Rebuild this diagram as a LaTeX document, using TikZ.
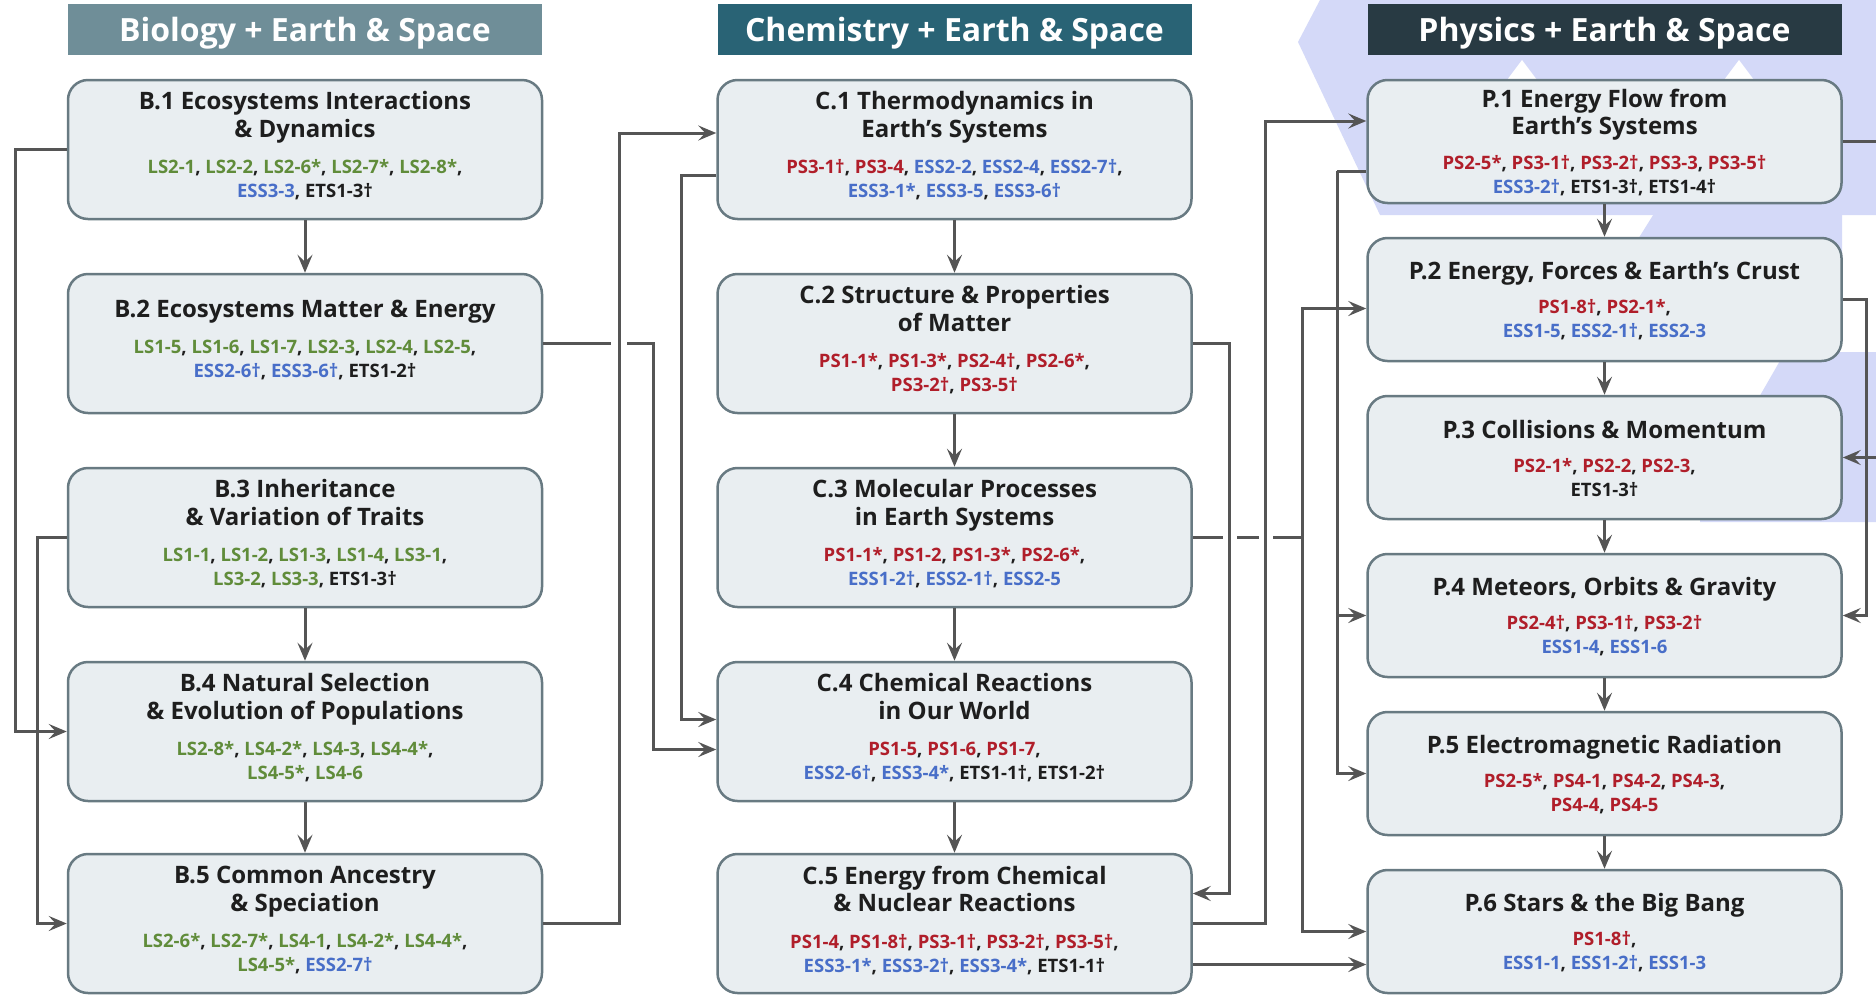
\documentclass[tikz,border=0pt]{standalone}
\usepackage{fontspec}
\setmainfont{Open Sans}
\usetikzlibrary{arrows.meta,calc}
\definecolor{hbio}{RGB}{111,142,152}
\definecolor{hchem}{RGB}{41,99,117}
\definecolor{hphys}{RGB}{40,58,67}
\definecolor{boxfill}{RGB}{233,238,241}
\definecolor{boxline}{RGB}{104,122,130}
\definecolor{lnc}{RGB}{85,85,85}
\definecolor{cgreen}{RGB}{96,140,58}
\definecolor{cred}{RGB}{176,30,42}
\definecolor{cblue}{RGB}{72,110,200}
\definecolor{cblack}{RGB}{30,30,30}
\definecolor{lav}{RGB}{212,217,248}
\newcommand{\cf}{\fontsize{18.5}{21}\selectfont}
\newcommand{\grn}[1]{\textcolor{cgreen}{#1}}
\newcommand{\rdc}[1]{\textcolor{cred}{#1}}
\newcommand{\blu}[1]{\textcolor{cblue}{#1}}
\tikzset{
  hdr/.style={fill=#1, minimum width=474pt, minimum height=51pt, inner sep=0pt, text depth=0pt, text=white, font=\fontsize{32}{36}\selectfont\bfseries},
  card/.style={draw=boxline, line width=2.5pt, fill=boxfill, rounded corners=20pt, minimum width=474pt, inner sep=0pt},
  bc/.style={card, minimum height=139pt},
  pc/.style={card, minimum height=123pt},
  txt/.style={align=center, font=\fontsize{24}{27.5}\selectfont\bfseries, text=cblack, inner sep=0pt},
  conn/.style={draw=lnc, line width=3pt},
  arr/.style={conn, -{Stealth[length=18pt,width=15pt,inset=7pt]}},
  gap/.style={fill=white}
}
\begin{document}
\begin{tikzpicture}[x=1pt,y=-1pt]
\useasboundingbox (0,0) rectangle (1876,994);
\fill[white] (0,0) rectangle (1876,994);
% background decoration
\fill[lav] (1320,0) -- (1298,42) -- (1380,215) -- (1876,215) -- (1876,0) -- cycle;
\fill[white] (1498,92) -- (1522,60) -- (1546,92) -- cycle;
\fill[white] (1715,92) -- (1739,60) -- (1763,92) -- cycle;
\fill[lav] (1655,212) -- (1600,300) -- (1842,300) -- (1842,212) -- cycle;
\fill[lav] (1785,352) -- (1700,500) -- (1700,522) -- (1876,522) -- (1876,352) -- cycle;
% headers
\node[hdr=hbio] (HB) at (305,29.5) {Biology + Earth \& Space};
\node[hdr=hchem] (HC) at (954.5,29.5) {Chemistry + Earth \& Space};
\node[hdr=hphys] (HP) at (1604.5,29.5) {Physics + Earth \& Space};
% boxes
\node[bc] (B1) at (305,149.5) {};
\node[bc] (B2) at (305,343.5) {};
\node[bc] (B3) at (305,537.5) {};
\node[bc] (B4) at (305,731.5) {};
\node[bc] (B5) at (305,923.5) {};
\node[bc] (C1) at (954.5,149.5) {};
\node[bc] (C2) at (954.5,343.5) {};
\node[bc] (C3) at (954.5,537.5) {};
\node[bc] (C4) at (954.5,731.5) {};
\node[bc] (C5) at (954.5,923.5) {};
\node[pc] (P1) at (1604.5,141.5) {};
\node[pc] (P2) at (1604.5,299.5) {};
\node[pc] (P3) at (1604.5,457.5) {};
\node[pc] (P4) at (1604.5,615.5) {};
\node[pc] (P5) at (1604.5,773.5) {};
\node[pc] (P6) at (1604.5,931.5) {};
% texts
\node[txt] (B1t) at ([yshift=3.5pt]B1.center) {B.1 Ecosystems Interactions\\\& Dynamics\\[9pt]{\cf\grn{LS2-1}, \grn{LS2-2}, \grn{LS2-6*}, \grn{LS2-7*}, \grn{LS2-8*},}\\[-3.5pt]{\cf\blu{ESS3-3}, ETS1-3†}};
\node[txt] (B2t) at ([yshift=3.5pt]B2.center) {B.2 Ecosystems Matter \& Energy\\[9pt]{\cf\grn{LS1-5}, \grn{LS1-6}, \grn{LS1-7}, \grn{LS2-3}, \grn{LS2-4}, \grn{LS2-5},}\\[-3.5pt]{\cf\blu{ESS2-6†}, \blu{ESS3-6†}, ETS1-2†}};
\node[txt] (B3t) at ([yshift=3.5pt]B3.center) {B.3 Inheritance\\\& Variation of Traits\\[9pt]{\cf\grn{LS1-1}, \grn{LS1-2}, \grn{LS1-3}, \grn{LS1-4}, \grn{LS3-1},}\\[-3.5pt]{\cf\grn{LS3-2}, \grn{LS3-3}, ETS1-3†}};
\node[txt] (B4t) at ([yshift=3.5pt]B4.center) {B.4 Natural Selection\\\& Evolution of Populations\\[9pt]{\cf\grn{LS2-8*}, \grn{LS4-2*}, \grn{LS4-3}, \grn{LS4-4*},}\\[-3.5pt]{\cf\grn{LS4-5*}, \grn{LS4-6}}};
\node[txt] (B5t) at ([yshift=3.5pt]B5.center) {B.5 Common Ancestry\\\& Speciation\\[9pt]{\cf\grn{LS2-6*}, \grn{LS2-7*}, \grn{LS4-1}, \grn{LS4-2*}, \grn{LS4-4*},}\\[-3.5pt]{\cf\grn{LS4-5*}, \blu{ESS2-7†}}};
\node[txt] (C1t) at ([yshift=3.5pt]C1.center) {C.1 Thermodynamics in\\Earth’s Systems\\[9pt]{\cf\rdc{PS3-1†}, \rdc{PS3-4}, \blu{ESS2-2}, \blu{ESS2-4}, \blu{ESS2-7†},}\\[-3.5pt]{\cf\blu{ESS3-1*}, \blu{ESS3-5}, \blu{ESS3-6†}}};
\node[txt] (C2t) at ([yshift=3.5pt]C2.center) {C.2 Structure \& Properties\\of Matter\\[9pt]{\cf\rdc{PS1-1*}, \rdc{PS1-3*}, \rdc{PS2-4†}, \rdc{PS2-6*},}\\[-3.5pt]{\cf\rdc{PS3-2†}, \rdc{PS3-5†}}};
\node[txt] (C3t) at ([yshift=3.5pt]C3.center) {C.3 Molecular Processes\\in Earth Systems\\[9pt]{\cf\rdc{PS1-1*}, \rdc{PS1-2}, \rdc{PS1-3*}, \rdc{PS2-6*},}\\[-3.5pt]{\cf\blu{ESS1-2†}, \blu{ESS2-1†}, \blu{ESS2-5}}};
\node[txt] (C4t) at ([yshift=3.5pt]C4.center) {C.4 Chemical Reactions\\in Our World\\[9pt]{\cf\rdc{PS1-5}, \rdc{PS1-6}, \rdc{PS1-7},}\\[-3.5pt]{\cf\blu{ESS2-6†}, \blu{ESS3-4*}, ETS1-1†, ETS1-2†}};
\node[txt] (C5t) at ([yshift=3.5pt]C5.center) {C.5 Energy from Chemical\\\& Nuclear Reactions\\[9pt]{\cf\rdc{PS1-4}, \rdc{PS1-8†}, \rdc{PS3-1†}, \rdc{PS3-2†}, \rdc{PS3-5†},}\\[-3.5pt]{\cf\blu{ESS3-1*}, \blu{ESS3-2†}, \blu{ESS3-4*}, ETS1-1†}};
\node[txt] (P1t) at ([yshift=-1pt]P1.center) {P.1 Energy Flow from\\Earth’s Systems\\[7pt]{\cf\rdc{PS2-5*}, \rdc{PS3-1†}, \rdc{PS3-2†}, \rdc{PS3-3}, \rdc{PS3-5†}}\\[-3.5pt]{\cf\blu{ESS3-2†}, ETS1-3†, ETS1-4†}};
\node[txt] (P2t) at ([yshift=-1pt]P2.center) {P.2 Energy, Forces \& Earth’s Crust\\[7pt]{\cf\rdc{PS1-8†}, \rdc{PS2-1*},}\\[-3.5pt]{\cf\blu{ESS1-5}, \blu{ESS2-1†}, \blu{ESS2-3}}};
\node[txt] (P3t) at ([yshift=-1pt]P3.center) {P.3 Collisions \& Momentum\\[7pt]{\cf\rdc{PS2-1*}, \rdc{PS2-2}, \rdc{PS2-3},}\\[-3.5pt]{\cf ETS1-3†}};
\node[txt] (P4t) at ([yshift=-1pt]P4.center) {P.4 Meteors, Orbits \& Gravity\\[7pt]{\cf\rdc{PS2-4†}, \rdc{PS3-1†}, \rdc{PS3-2†}}\\[-3.5pt]{\cf\blu{ESS1-4}, \blu{ESS1-6}}};
\node[txt] (P5t) at ([yshift=-1pt]P5.center) {P.5 Electromagnetic Radiation\\[7pt]{\cf\rdc{PS2-5*}, \rdc{PS4-1}, \rdc{PS4-2}, \rdc{PS4-3},}\\[-3.5pt]{\cf\rdc{PS4-4}, \rdc{PS4-5}}};
\node[txt] (P6t) at ([yshift=-1pt]P6.center) {P.6 Stars \& the Big Bang\\[7pt]{\cf\rdc{PS1-8†},}\\[-3.5pt]{\cf\blu{ESS1-1}, \blu{ESS1-2†}, \blu{ESS1-3}}};
% vertical arrows within columns
\foreach \a/\b in {B1/B2,B3/B4,B4/B5,C1/C2,C2/C3,C3/C4,C4/C5,P1/P2,P2/P3,P3/P4,P4/P5,P5/P6}
  \draw[arr] (\a.south) -- (\b.north);
% left side of biology
\draw[arr] (B1.west) -- ++(-51,0) |- (B4.west);
\draw[arr] (B3.west) -- ++(-29,0) |- (B5.west);
% biology -> chemistry
\coordinate (xa) at ($(B5.east)+(76,0)$);
\draw[arr] (B2.east) -- ++(110,0) |- ([yshift=-18pt]C4.west);
\fill[gap] ($(xa|-B2.east)+(-8,-3)$) rectangle ($(xa|-B2.east)+(8,3)$);
\draw[arr] (B5.east) -- (xa) |- ([yshift=16.5pt]C1.west);
\draw[arr] ([yshift=-26pt]C1.west) -- ++(-35,0) |- ([yshift=12pt]C4.west);
% chemistry -> physics
\coordinate (xb) at ($(C2.east)+(37,0)$);
\coordinate (xc) at ($(C5.east)+(73,0)$);
\draw[conn] (C3.east) -- ++(110,0) coordinate (jc);
\draw[arr] (jc) |- ([yshift=-9pt]P2.west);
\draw[arr] (jc) |- (P6.west);
\fill[gap] ($(xb|-C3.east)+(-7,-3)$) rectangle ($(xb|-C3.east)+(7,3)$);
\fill[gap] ($(xc|-C3.east)+(-7,-3)$) rectangle ($(xc|-C3.east)+(7,3)$);
\draw[arr] (C2.east) -- (xb) |- ([yshift=30pt]C5.east);
\draw[arr] (C5.east) -- (xc) |- ([yshift=20.5pt]P1.west);
\coordinate (c5o) at ([yshift=-41pt]C5.east);
\draw[arr] (c5o) -- (c5o -| P6.west);
% physics internal side links
\draw[conn] ([yshift=-29.5pt]P1.west) -- ++(-29,0) coordinate (jp);
\draw[arr] (jp) |- (P4.west);
\draw[arr] (jp) |- (P5.west);
\draw[arr] (P2.east) -- ++(24,0) |- (P4.east);
\draw[arr] (P1.east) -- ++(45,0) |- (P3.east);
\end{tikzpicture}
\end{document}
